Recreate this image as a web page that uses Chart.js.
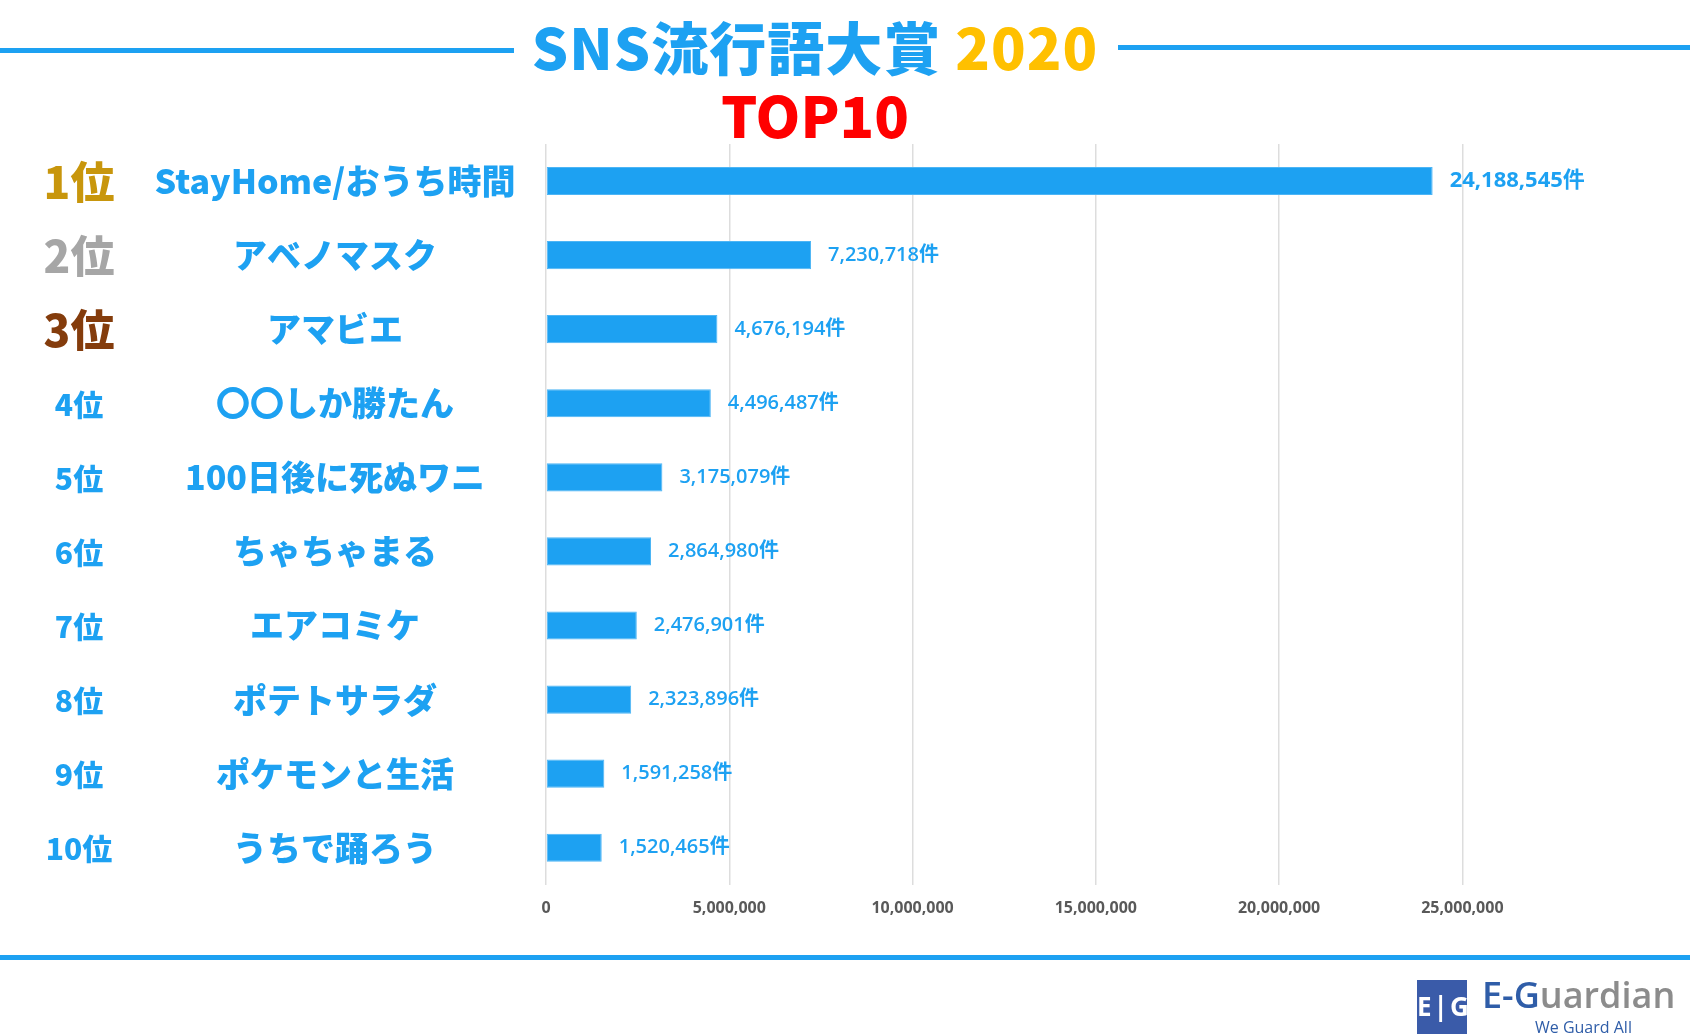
<!DOCTYPE html>
<html>
<head>
<meta charset="utf-8">
<script src="https://cdn.jsdelivr.net/npm/chart.js@4"></script>
<style>
  html, body { margin: 0; padding: 0; background: #fff; }
  body { width: 1690px; height: 1034px; position: relative; overflow: hidden; font-family: "Noto Sans CJK JP", "Noto Sans", sans-serif; }
  #wrap { position: absolute; left: 0; top: 0; width: 1690px; height: 1034px; }
  .line { position: absolute; height: 5px; background: #1DA1F2; }
  .title { position: absolute; left: 0; width: 1630px; text-align: center; font-weight: 900; white-space: nowrap; }
  #logo { position: absolute; left: 1417px; top: 980px; width: 50px; height: 56px; background: #3A5BA9; color: #fff; font: 700 26px "Open Sans", sans-serif; text-align: center; line-height: 52px; letter-spacing: 2px; }
  #logoText { position: absolute; left: 1482px; top: 970px; font: 600 36px "Open Sans", sans-serif; white-space: nowrap; }
  #logoSub { position: absolute; left: 1535px; top: 1016px; font: 400 16px "Open Sans", sans-serif; color: #2F5DA8; white-space: nowrap; }
</style>
</head>
<body>
<div id="wrap"><canvas id="chart" width="1690" height="1034"></canvas></div>
<div class="line" style="left:0; top:48px; width:514px;"></div>
<div class="line" style="left:1118px; top:45px; width:572px;"></div>
<div class="line" style="left:0; top:955px; width:1690px;"></div>
<div class="title" style="top:10px; font-size:57px; line-height:70px; letter-spacing:1px;"><span style="color:#1DA1F2">SNS流行語大賞</span> <span style="color:#FFC000">2020</span></div>
<div class="title" style="top:78px; font-size:57px; line-height:70px; color:#FF0000;">TOP10</div>
<div id="logo">E|G</div>
<div id="logoText"><span style="color:#2F5DA8">E-G</span><span style="color:#8C8C8C">uardian</span></div>
<div id="logoSub">We Guard All</div>
<script>
// data
var ranks = ['1位', '2位', '3位', '4位', '5位', '6位', '7位', '8位', '9位', '10位'];
var categories = ['StayHome/おうち時間', 'アベノマスク', 'アマビエ', '〇〇しか勝たん', '100日後に死ぬワニ',
                  'ちゃちゃまる', 'エアコミケ', 'ポテトサラダ', 'ポケモンと生活', 'うちで踊ろう'];
var values = [24188545, 7230718, 4676194, 4496487, 3175079, 2864980, 2476901, 2323896, 1591258, 1520465];
var xTicks = [0, 5000000, 10000000, 15000000, 20000000, 25000000];

var blue = '#1DA1F2';
var rankColors = ['#C8960C', '#A6A6A6', '#843C0C'];

// rank + name on the left, value labels on the right of each bar
var labelPlugin = {
    id: 'labels',
    afterDatasetsDraw: function(chart) {
        var ctx = chart.ctx;
        var y = chart.scales.y;
        var meta = chart.getDatasetMeta(0);
        ctx.save();
        ctx.textBaseline = 'middle';
        for (var i = 0; i < categories.length; i++) {
            var py = y.getPixelForValue(i);
            // rank
            ctx.textAlign = 'center';
            ctx.fillStyle = rankColors[i] || blue;
            ctx.font = (i < 3 ? '900 44px' : '900 30px') + ' "Noto Sans CJK JP", sans-serif';
            ctx.fillText(ranks[i], 79, py + 1);
            // name
            ctx.fillStyle = blue;
            ctx.font = '900 34px "Noto Sans CJK JP", sans-serif';
            ctx.fillText(categories[i], 335, py);
            // value
            var bar = meta.data[i];
            ctx.textAlign = 'left';
            ctx.font = (i === 0 ? '700 22px' : '600 20px') + ' "Open Sans", "Noto Sans CJK JP", sans-serif';
            ctx.fillText(values[i].toLocaleString('en-US') + '件', bar.x + 17, py);
        }
        ctx.restore();
    }
};

var chart = new Chart(document.getElementById('chart').getContext('2d'), {
    type: 'bar',
    data: {
        labels: categories,
        datasets: [{
            data: values,
            backgroundColor: blue,
            borderColor: '#4DB5F5',
            borderWidth: 1,
            borderSkipped: false,
            barPercentage: 0.38,
            categoryPercentage: 1
        }]
    },
    options: {
        indexAxis: 'y',
        responsive: false,
        animation: false,
        layout: { padding: { left: 546, top: 144, right: 81, bottom: 102 } },
        plugins: { legend: { display: false }, tooltip: { enabled: false } },
        scales: {
            x: {
                min: 0,
                max: 29000000,
                afterBuildTicks: function(scale) {
                    scale.ticks = xTicks.map(function(v) { return { value: v }; });
                },
                grid: { color: '#DDDDDD', lineWidth: 1.5, drawTicks: false },
                border: { display: false },
                ticks: {
                    padding: 14,
                    color: '#595959',
                    font: { family: '"Open Sans", sans-serif', size: 16, weight: '700' },
                    callback: function(v) { return Number(v).toLocaleString('en-US'); }
                }
            },
            y: { display: false }
        }
    },
    plugins: [labelPlugin]
});
</script>
</body>
</html>
